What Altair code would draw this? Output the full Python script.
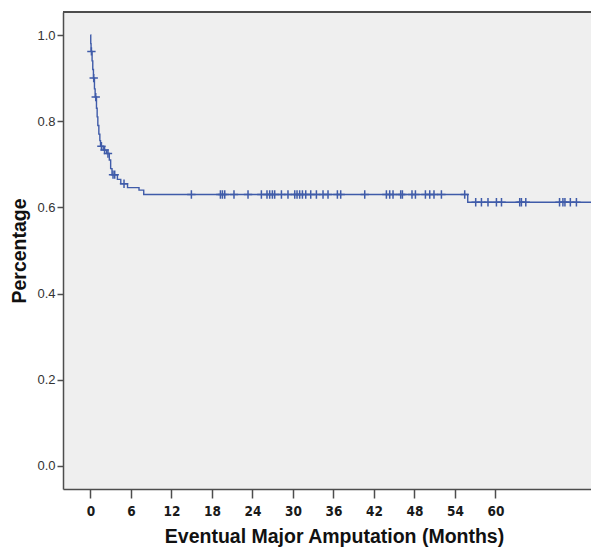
import altair as alt
import pandas as pd

# Kaplan-Meier step curve (months, survival proportion)
step_t = [0, 0.05, 0.1, 0.25, 0.35, 0.45, 0.6, 0.7, 0.9, 1.0, 1.1, 1.25, 1.4, 1.5,
          1.9, 2.4, 2.8, 3.0, 3.2, 4.0, 4.5, 5.5, 7.2, 7.9, 55.9, 76.0]
step_s = [1.0, 0.98, 0.962, 0.94, 0.92, 0.90, 0.875, 0.856, 0.83, 0.81, 0.79, 0.77,
          0.755, 0.742, 0.733, 0.725, 0.71, 0.69, 0.676, 0.665, 0.655, 0.646, 0.640,
          0.630, 0.612, 0.612]

# Censored observations (months)
censor_t = [0.15, 0.49, 0.79, 1.63, 2.1, 2.6, 3.35, 3.6, 4.98,
            14.96, 19.26, 19.56, 19.9, 21.27, 23.35, 25.33, 26.16, 26.56, 26.96,
            27.3, 28.3, 29.27, 30.27, 30.61, 31.0, 31.41, 31.9, 32.64, 33.48,
            34.46, 35.2, 36.59, 37.08, 40.64, 43.85, 44.34, 44.83, 45.97, 46.22,
            47.64, 48.15, 49.63, 50.27, 50.9, 52.0, 55.45,
            57.08, 57.93, 58.9, 60.15, 60.9, 63.6, 63.85, 64.5, 69.5, 70.0, 70.3,
            71.1, 72.0]

x_ticks = [0, 6, 12, 18, 24, 30, 36, 42, 48, 54, 60]
y_ticks = [0.0, 0.2, 0.4, 0.6, 0.8, 1.0]

Y_MIN, Y_MAX = -0.0534, 1.0534


def surv_at(t):
    s = step_s[0]
    for tt, ss in zip(step_t, step_s):
        if tt <= t:
            s = ss
    return s


curve = pd.DataFrame({"t": step_t, "s": step_s})
cens = pd.DataFrame({"t": censor_t, "s": [surv_at(t) for t in censor_t]})

LINE = "#3F5BA9"
BORDER = "#4D4D4D"
xs = alt.Scale(domain=[-4.06, 74.16], nice=False, zero=False)
ys = alt.Scale(domain=[Y_MIN, Y_MAX], nice=False, zero=False)

x_axis = alt.Axis(
    values=x_ticks, title="Eventual Major Amputation (Months)", grid=False,
    domainColor=BORDER, domainWidth=1.5, tickColor=BORDER, tickSize=9,
    tickWidth=1.5, labelFont="DejaVu Sans Condensed", labelFontWeight="bold",
    labelFontSize=13.5, labelColor="#1a1a1a", labelPadding=6,
    titleFont="Liberation Sans", titleFontSize=19.5, titleFontWeight="bold",
    titleColor="#111111", titlePadding=10, titleX=271)
y_axis = alt.Axis(
    values=y_ticks, format=".1f", title="Percentage", grid=False,
    domainColor=BORDER, domainWidth=1.5, tickColor=BORDER, tickSize=6,
    tickWidth=1.5, labelFont="Liberation Sans", labelFontSize=13,
    labelColor="#333333", labelPadding=2,
    titleFont="Liberation Sans", titleFontSize=19.5, titleFontWeight="bold",
    titleColor="#111111", titlePadding=7)

line = alt.Chart(curve).mark_line(interpolate="step-after", color=LINE,
                                  strokeWidth=1.4, clip=True).encode(
    x=alt.X("t:Q", scale=xs, axis=x_axis),
    y=alt.Y("s:Q", scale=ys, axis=y_axis),
)

marks = alt.Chart(cens).mark_point(
    shape="M-1,0L1,0M0,-1L0,1", filled=False, color=LINE, size=70,
    strokeWidth=1.5, opacity=1, clip=True).encode(
    x=alt.X("t:Q", scale=xs),
    y=alt.Y("s:Q", scale=ys),
)

top_border = alt.Chart(curve).mark_rule(color=BORDER, strokeWidth=2).encode(
    y=alt.datum(Y_MAX, scale=ys),
)

chart = (line + marks + top_border).properties(
    width=528, height=477,
    autosize=alt.AutoSizeParams(type="none"),
    padding={"left": 55, "top": 4, "right": 0, "bottom": 58},
    background="white",
).configure_view(fill="#EFEFEF", stroke="transparent", strokeWidth=0)

chart.save("out.html", embed_options={"renderer": "svg", "actions": False})
